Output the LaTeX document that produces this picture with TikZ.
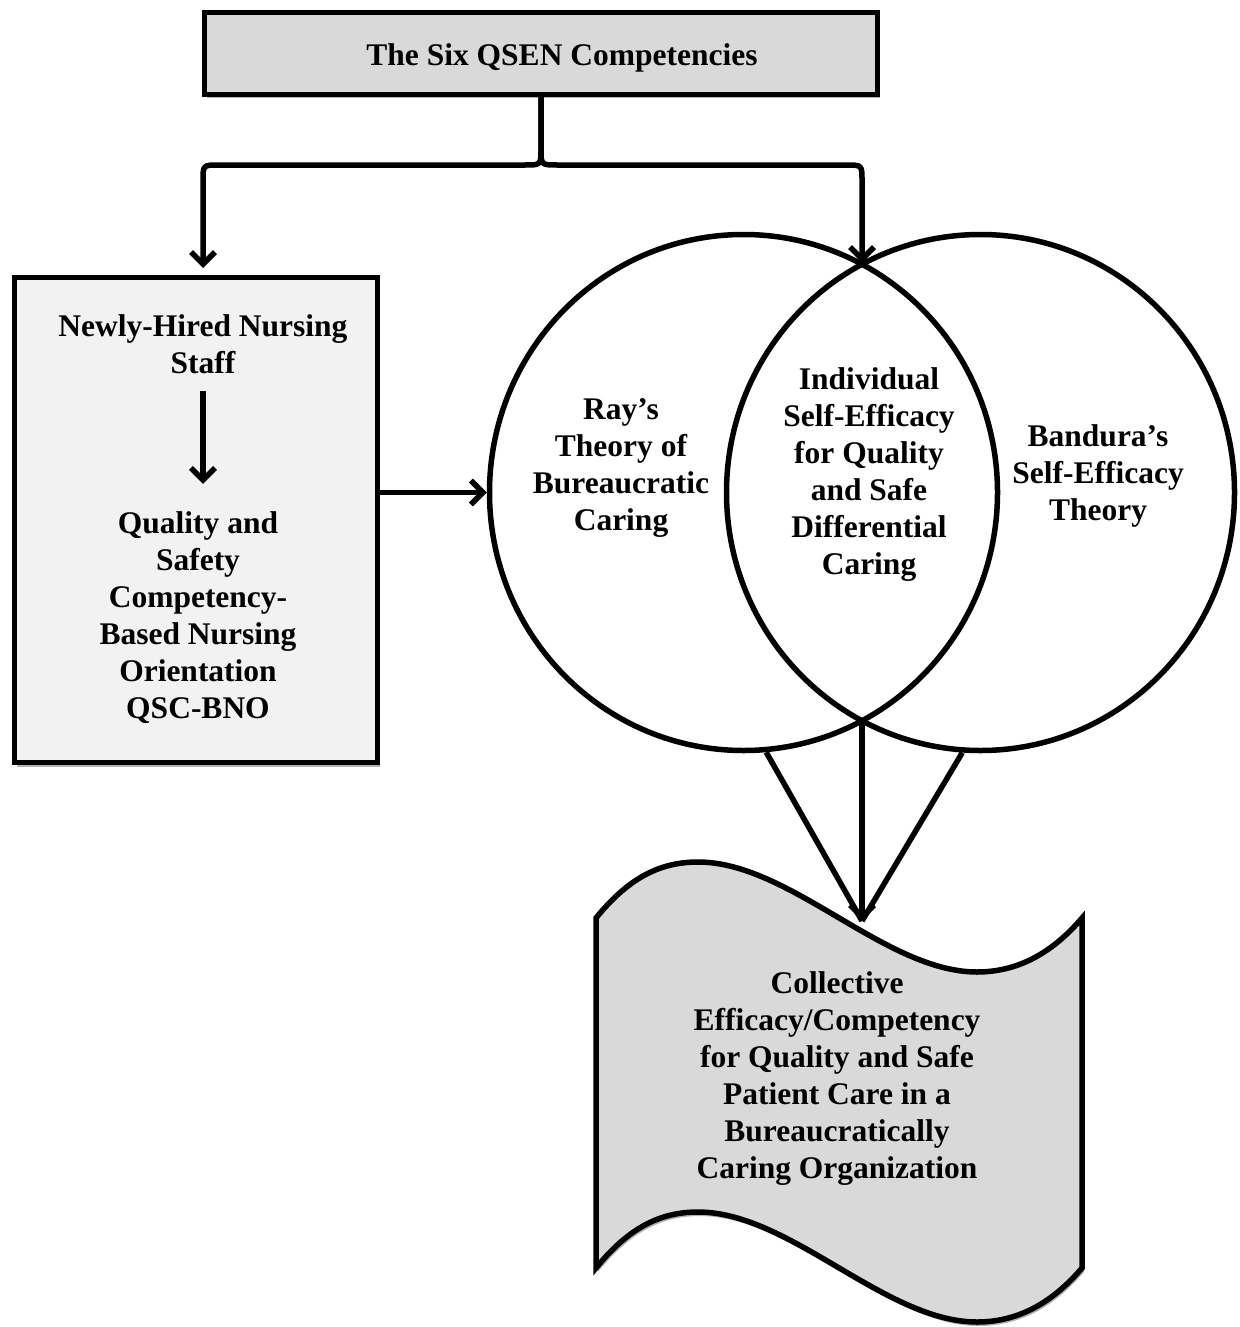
\documentclass[tikz,border=0pt]{standalone}
\usepackage{fontspec}
\setmainfont{Liberation Serif}
\usetikzlibrary{arrows.meta,shapes.geometric,shadows}
\begin{document}
\begin{tikzpicture}[x=1pt,y=-1pt,
  lw/.style={line width=5.5pt},
  box/.style={draw,lw,inner sep=0pt},
  lbl/.style={font=\fontsize{31.5}{37}\selectfont\bfseries,align=center,inner sep=0pt},
  arr/.style={lw,-{Straight Barb[length=12pt,width=24pt]}},
  softshadow/.style={drop shadow={shadow xshift=2pt,shadow yshift=-4pt,opacity=0.3,fill=black}},
  venn/.style={draw,lw,ellipse,inner sep=0pt,minimum width=508,minimum height=516}
]
\fill[white] (0,0) rectangle (1239,1327);
\useasboundingbox (0,0) rectangle (1239,1327);

% top box
\node[box,fill=black!15,minimum width=673,minimum height=82,softshadow] (top) at (541,53.5) {};
\node[lbl] (title) at (562,58) {The Six QSEN Competencies};

% left box
\node[box,fill=black!5,minimum width=363,minimum height=485,softshadow] (lbox) at (196,520) {};
\node[lbl] (n1) at (203,344.5) {Newly-Hired Nursing\\Staff};
\node[lbl] (n2) at (198,618) {Quality and\\Safety\\Competency-\\Based Nursing\\Orientation\\QSC-BNO};
\draw[arr,shorten <=17pt,shorten >=28pt] (n1.south) -- (n1.south |- n2.north);

% circles
\node[venn] (L) at (743.5,492.5) {};
\node[venn] (R) at (980.5,492.5) {};
\coordinate (topX) at (862,263);
\coordinate (botX) at (862,722);
\node[lbl] (rt) at (621,468) {Ray’s\\Theory of\\Bureaucratic\\Caring};
\node[lbl] (mt) at (869,474.5) {Individual\\Self-Efficacy\\for Quality\\and Safe\\Differential\\Caring};
\node[lbl] (bt) at (1098,476) {Bandura’s\\Self-Efficacy\\Theory};

% bottom document shape
\path[draw,lw,fill=black!15,softshadow] (596,918) .. controls (630,876) and (662,862) .. (698,862)
  .. controls (790,862) and (885,972) .. (977,972)
  .. controls (1012,972) and (1048,958) .. (1082,918)
  -- (1082,1268)
  .. controls (1048,1308) and (1012,1322) .. (977,1322)
  .. controls (885,1322) and (790,1212) .. (698,1212)
  .. controls (662,1212) and (630,1226) .. (596,1268) -- cycle;
\coordinate (tip) at (862,921);
\node[lbl] (ct) at (837,1079) {Collective\\Efficacy/Competency\\for Quality and Safe\\Patient Care in a\\Bureaucratically\\Caring Organization};

% brace connector
\coordinate (lx) at (203,268);
\draw[arr] (top.south) -- (541,148) .. controls (541,165) .. (525,165) -- (219,165) .. controls (203,165) .. (203,181) -- (lx);
\draw[arr] (top.south) -- (541,148) .. controls (541,165) .. (557,165) -- (846,165) .. controls (862,165) .. (862,181) -- (topX);

% left box to circle
\draw[arr] (lbox.east |- L.west) -- (L.west);

% circles to document
\draw[lw] (L.-85) -- (tip);
\draw[lw] (R.-94) -- (tip);
\draw[arr] (botX) -- (tip);
\end{tikzpicture}
\end{document}
